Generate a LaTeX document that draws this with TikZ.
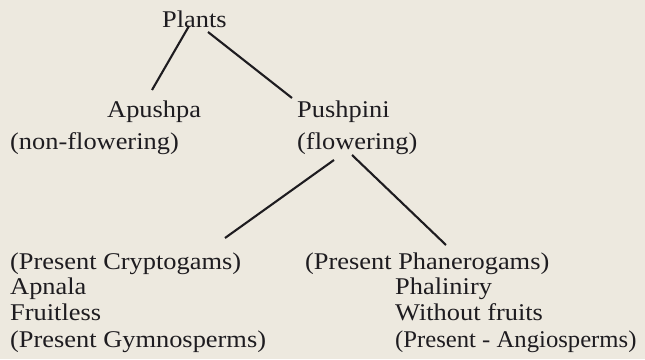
\documentclass[tikz,border=0pt]{standalone}
\usepackage{fontspec}
\setmainfont{Liberation Serif}[FakeStretch=1.10]
\usetikzlibrary{calc}
\definecolor{paper}{RGB}{237,233,223}
\definecolor{ink}{RGB}{30,28,32}
\begin{document}
\begin{tikzpicture}[x=1pt,y=1pt,
  lbl/.style={inner sep=0pt, font=\fontsize{24}{28}\selectfont, text=ink, anchor=base west},
  link/.style={draw=ink, line width=2.1pt}]
\fill[paper] (0,0) rectangle (645,359);
\useasboundingbox (0,0) rectangle (645,359);
\node[lbl] (plants) at (162,331) {Plants};
\node[lbl] (apushpa) at (107,241) {Apushpa};
\node[lbl] (pushpini) at (297,241) {Pushpini};
\node[lbl] (nonflow) at (10,209) {(non-flowering)};
\node[lbl] (flow) at (297,209) {(flowering)};
\node[lbl] (crypto) at (10,90) {(Present Cryptogams)};
\node[lbl] (apnala) at (10,65) {Apnala};
\node[lbl] (fruitless) at (10,39) {Fruitless};
\node[lbl] (gymno) at (10,12) {(Present Gymnosperms)};
\node[lbl] (phanero) at (305,90) {(Present Phanerogams)};
\node[lbl] (phaliniry) at (395,65) {Phaliniry};
\node[lbl] (without) at (395,39) {Without fruits};
\node[lbl] (angio) at (395,12) {\scalebox{0.935}[1]{(Present - Angiosperms)}};
\draw[link] ($(plants.base west)+(27,2)$) -- ($(apushpa.base west)+(45,28)$);
\draw[link] ($(plants.base west)+(46,-4)$) -- ($(pushpini.base west)+(-5,20)$);
\draw[link] ($(flow.base west)+(37,-10)$) -- ($(crypto.base west)+(215,31)$);
\draw[link] ($(flow.base west)+(55,-5)$) -- ($(phanero.base west)+(141,24)$);
\end{tikzpicture}
\end{document}
